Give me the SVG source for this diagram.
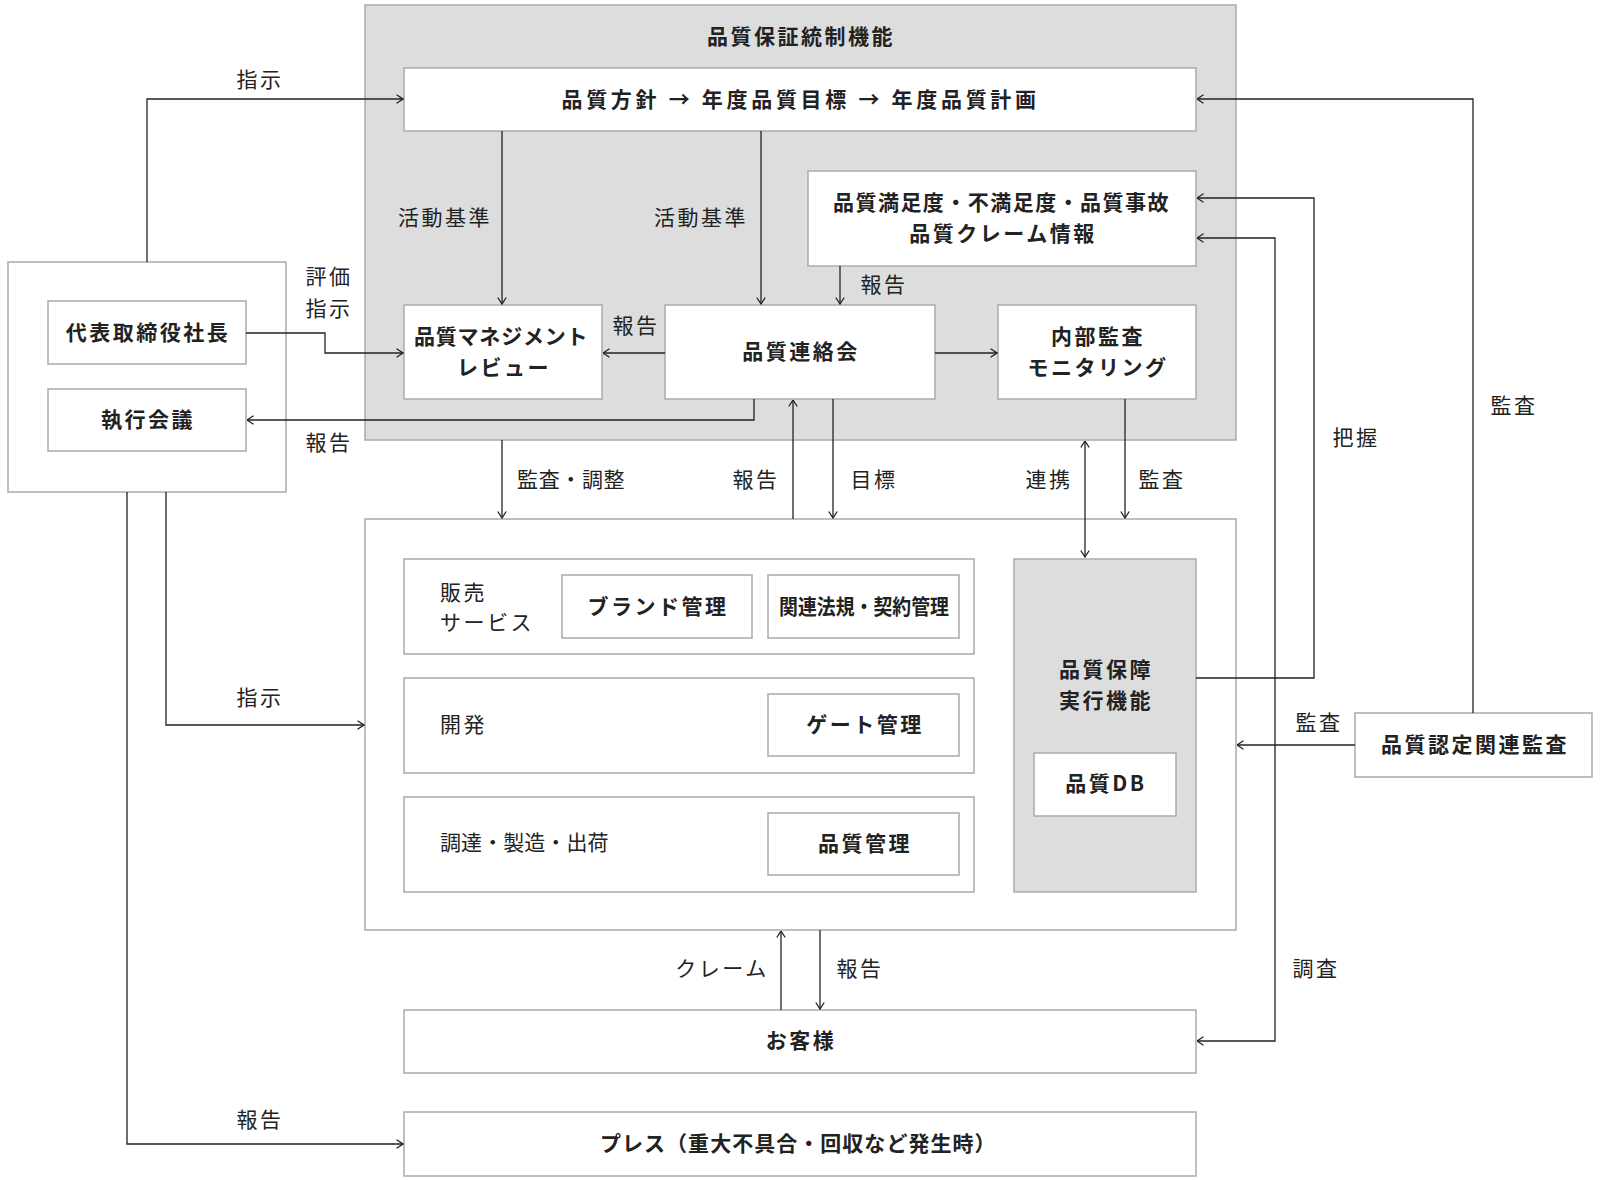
<svg xmlns="http://www.w3.org/2000/svg" width="1600" height="1180" viewBox="0 0 1600 1180">
<defs>
<style>
.box{fill:#fff;stroke:#aaa;stroke-width:1.5}
.gray{fill:#dcdddc;stroke:#aaa;stroke-width:1.5}
.n{font-family:"Noto Sans CJK JP","Noto Sans",sans-serif;font-size:21px;font-weight:700;fill:#222;text-anchor:middle;dominant-baseline:central;letter-spacing:2.5px}
.l{font-family:"Noto Sans CJK JP","Noto Sans",sans-serif;font-size:21px;font-weight:400;fill:#222;text-anchor:middle;dominant-baseline:central;letter-spacing:2.5px}
.s{text-anchor:start}
.c{fill:none;stroke:#222;stroke-width:1.3;marker-end:url(#arr)}
.c2{marker-start:url(#arr)}
</style>
<marker id="arr" viewBox="0 0 8 10" refX="7.5" refY="5" markerWidth="8" markerHeight="10" markerUnits="userSpaceOnUse" orient="auto-start-reverse">
<path d="M1,0.8 L7.5,5 L1,9.2" fill="none" stroke="#222" stroke-width="1.3"/>
</marker>
</defs>
<rect width="1600" height="1180" fill="#fff"/>

<g id="qa-control">
<rect class="gray" x="365" y="5" width="871" height="435"/>
<text class="n" x="801" y="35">品質保証統制機能</text>
</g>
<g id="policy">
<rect class="box" x="404" y="68" width="792" height="63"/>
<text class="n" x="800" y="98" textLength="477" lengthAdjust="spacing">品質方針 → 年度品質目標 → 年度品質計画</text>
</g>
<g id="satisfaction">
<rect class="box" x="808" y="171" width="388" height="95"/>
<text class="n" x="1002" y="201" textLength="338" lengthAdjust="spacing">品質満足度・不満足度・品質事故</text>
<text class="n" x="1003" y="232">品質クレーム情報</text>
</g>
<g id="review">
<rect class="box" x="404" y="305" width="198" height="94"/>
<text class="n" x="502" y="335" textLength="176" lengthAdjust="spacing">品質マネジメント</text>
<text class="n" x="504" y="366">レビュー</text>
</g>
<g id="liaison">
<rect class="box" x="665" y="305" width="270" height="94"/>
<text class="n" x="801" y="350">品質連絡会</text>
</g>
<g id="internal-audit">
<rect class="box" x="998" y="305" width="198" height="94"/>
<text class="n" x="1098" y="335">内部監査</text>
<text class="n" x="1098" y="366">モニタリング</text>
</g>

<g id="management">
<rect class="box" x="8" y="262" width="278" height="230"/>
</g>
<g id="president">
<rect class="box" x="48" y="301" width="198" height="63"/>
<text class="n" x="148" y="331">代表取締役社長</text>
</g>
<g id="exec-meeting">
<rect class="box" x="48" y="389" width="198" height="62"/>
<text class="n" x="148" y="418">執行会議</text>
</g>

<g id="operations">
<rect class="box" x="365" y="519" width="871" height="411"/>
</g>
<g id="sales">
<rect class="box" x="404" y="559" width="570" height="95"/>
<text class="l s" x="440" y="591">販売</text>
<text class="l s" x="440" y="621">サービス</text>
</g>
<g id="brand">
<rect class="box" x="562" y="575" width="190" height="63"/>
<text class="n" x="658" y="605">ブランド管理</text>
</g>
<g id="legal">
<rect class="box" x="768" y="575" width="191" height="63"/>
<text class="n" x="864" y="605" textLength="170" lengthAdjust="spacingAndGlyphs" style="letter-spacing:0">関連法規・契約管理</text>
</g>
<g id="development">
<rect class="box" x="404" y="678" width="570" height="95"/>
<text class="l s" x="440" y="723">開発</text>
</g>
<g id="gate">
<rect class="box" x="768" y="694" width="191" height="62"/>
<text class="n" x="865" y="723">ゲート管理</text>
</g>
<g id="procurement">
<rect class="box" x="404" y="797" width="570" height="95"/>
<text class="l s" x="440" y="841" textLength="171" lengthAdjust="spacing">調達・製造・出荷</text>
</g>
<g id="qc">
<rect class="box" x="768" y="813" width="191" height="62"/>
<text class="n" x="865" y="842">品質管理</text>
</g>
<g id="qa-exec">
<rect class="gray" x="1014" y="559" width="182" height="333"/>
<text class="n" x="1106" y="668">品質保障</text>
<text class="n" x="1106" y="699">実行機能</text>
</g>
<g id="qdb">
<rect class="box" x="1034" y="753" width="142" height="63"/>
<text class="n" x="1106" y="782">品質DB</text>
</g>
<g id="cert-audit">
<rect class="box" x="1355" y="713" width="237" height="64"/>
<text class="n" x="1475" y="743">品質認定関連監査</text>
</g>
<g id="customer">
<rect class="box" x="404" y="1010" width="792" height="63"/>
<text class="n" x="801" y="1039">お客様</text>
</g>
<g id="press">
<rect class="box" x="404" y="1112" width="792" height="64"/>
<text class="n" x="799" y="1142" textLength="398" lengthAdjust="spacing">プレス（重大不具合・回収など発生時）</text>
</g>

<g id="connectors">
<path class="c" d="M147,262 V99 H403"/>
<path class="c" d="M502,131 V304"/>
<path class="c" d="M761,131 V304"/>
<path class="c" d="M840,266 V304"/>
<path class="c" d="M246,333 H325 V353 H403"/>
<path class="c" d="M665,353 H603"/>
<path class="c" d="M935,353 H997"/>
<path class="c" d="M754,399 V420 H247"/>
<path class="c" d="M502,440 V518"/>
<path class="c" d="M793,519 V400"/>
<path class="c" d="M833,399 V518"/>
<path class="c c2" d="M1085,441 V557"/>
<path class="c" d="M1125,399 V518"/>
<path class="c" d="M1196,678 H1314 V198 H1197"/>
<path class="c c2" d="M1197,238 H1275 V1041 H1197"/>
<path class="c" d="M1473,713 V99 H1197"/>
<path class="c" d="M1355,745 H1237"/>
<path class="c" d="M166,492 V725 H364"/>
<path class="c" d="M127,492 V1144 H403"/>
<path class="c" d="M781,1010 V931"/>
<path class="c" d="M820,930 V1009"/>
</g>

<g id="labels">
<text class="l" x="260" y="78">指示</text>
<text class="l" x="445" y="216">活動基準</text>
<text class="l" x="701" y="216">活動基準</text>
<text class="l" x="884" y="283">報告</text>
<text class="l" x="329" y="275">評価</text>
<text class="l" x="329" y="307">指示</text>
<text class="l" x="636" y="324">報告</text>
<text class="l" x="329" y="441">報告</text>
<text class="l" x="572" y="478" textLength="110" lengthAdjust="spacing">監査・調整</text>
<text class="l" x="756" y="478">報告</text>
<text class="l" x="874" y="478">目標</text>
<text class="l" x="1049" y="478">連携</text>
<text class="l" x="1162" y="478">監査</text>
<text class="l" x="1356" y="436">把握</text>
<text class="l" x="1514" y="404">監査</text>
<text class="l" x="1319" y="721">監査</text>
<text class="l" x="260" y="696">指示</text>
<text class="l" x="1316" y="967">調査</text>
<text class="l" x="722" y="967">クレーム</text>
<text class="l" x="860" y="967">報告</text>
<text class="l" x="260" y="1118">報告</text>
</g>
</svg>
